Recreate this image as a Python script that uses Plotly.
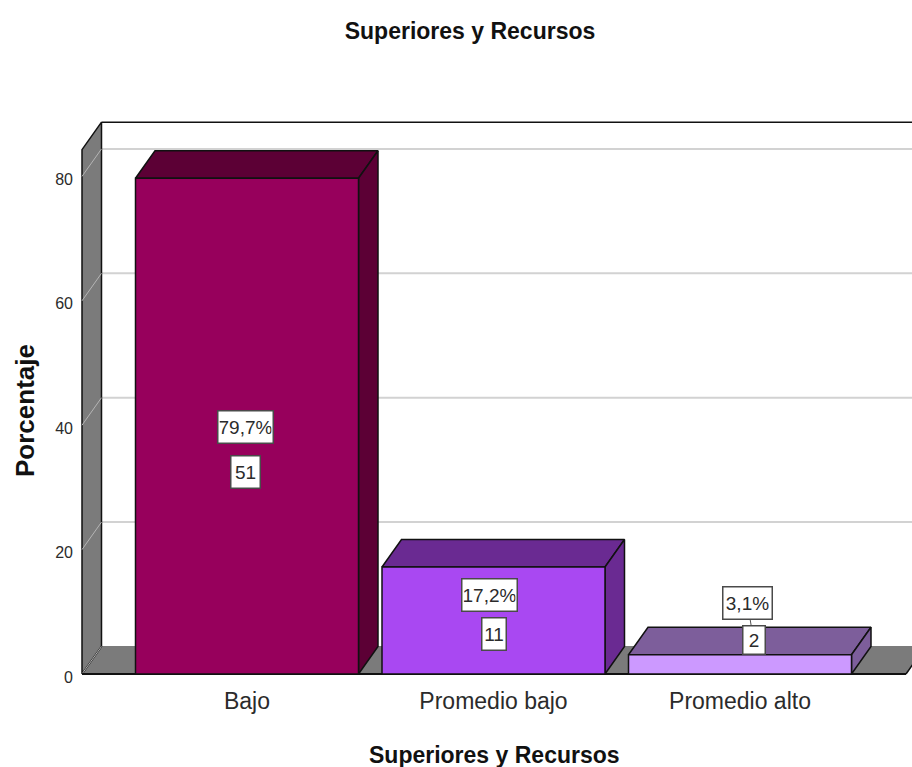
import plotly.graph_objects as go

# ---- data ----
categories = ["Bajo", "Promedio bajo", "Promedio alto"]
percentages = [79.7, 17.2, 3.1]
counts = [51, 11, 2]
pct_labels = ["79,7%", "17,2%", "3,1%"]
y_ticks = [0, 20, 40, 60, 80]

# ---- styling ----
front_colors = ["#97005C", "#A948F2", "#CC99FF"]
shade_colors = ["#5C0035", "#6A2A92", "#7D5E9B"]
WALL = "#7B7B7B"
GRID = "#D2D2D2"
EDGE = "#111111"
FONT = "Liberation Sans, Arial, sans-serif"
TXT = "#2B2B2B"

# ---- geometry constants (pixels -> data units) ----
W, H = 912, 767
PX_X, PX_Y = 246.5, 6.22       # pixels per data unit
X0_PX, Y0_PX = 247, 674        # pixel position of x=0 and y=0
L_PX, T_PX, B_PX = 78, 120, 678
DX = 19.5 / PX_X               # 3-D depth
DY = 27.5 / PX_Y
BAR_W = 223 / PX_X
X_LEFT = (82 - X0_PX) / PX_X   # front-left corner of the floor
X_RIGHT = (906 - X0_PX) / PX_X  # front-right corner of the floor
Y_TOP = 84.3                   # front top of the left wall
TICK_SHIFT = 3 / PX_Y          # tick labels sit slightly under their gridline

# label box centres in data units, and box sizes in pixels
pct_label_xy = [(-0.008, 39.7), (0.985, 12.75), (2.03, 11.4)]
cnt_label_xy = [(-0.008, 32.5), (1.0, 6.45), (2.055, 5.5)]
pct_label_w = [52, 52, 46]
cnt_label_w = [26, 21, 19]
pct_label_h = [29, 29, 29]
cnt_label_h = [29, 29, 25]

fig = go.Figure()


def paper_x(px):
    return (px - L_PX) / (W - L_PX)


def paper_y(py):
    return (B_PX - py) / (B_PX - T_PX)


def poly(xs, ys, fill, line=EDGE, lw=1.5):
    fig.add_trace(go.Scatter(
        x=list(xs) + [xs[0]], y=list(ys) + [ys[0]], mode="lines", fill="toself",
        fillcolor=fill, line=dict(color=line, width=lw), hoverinfo="skip", showlegend=False))


def seg(xs, ys, color, lw):
    fig.add_trace(go.Scatter(x=xs, y=ys, mode="lines", line=dict(color=color, width=lw),
                             hoverinfo="skip", showlegend=False))


# back-wall gridlines
for t in y_ticks[1:]:
    seg([X_LEFT + DX, X_RIGHT + DX], [t + DY, t + DY], GRID, 2)

# floor
poly([X_LEFT, X_RIGHT, X_RIGHT + DX, X_LEFT + DX], [0, 0, DY, DY], WALL, line=WALL, lw=1)
seg([X_RIGHT, X_RIGHT + DX], [0, DY], EDGE, 1.5)
# left wall
poly([X_LEFT, X_LEFT + DX, X_LEFT + DX, X_LEFT], [0, DY, Y_TOP + DY, Y_TOP], WALL)
for t in y_ticks:
    seg([X_LEFT, X_LEFT + DX], [t, t + DY], "#B5B5B5", 1)
# wall top and front axis line
seg([X_LEFT + DX, X_RIGHT + DX], [Y_TOP + DY, Y_TOP + DY], EDGE, 1.5)
seg([X_LEFT, X_RIGHT], [0, 0], EDGE, 2)

# bars
for i, v in enumerate(percentages):
    a, b = i - BAR_W / 2, i + BAR_W / 2
    poly([a, a + DX, b + DX, b], [v, v + DY, v + DY, v], shade_colors[i])
    poly([b, b + DX, b + DX, b], [0, DY, v + DY, v], shade_colors[i])
    poly([a, b, b, a], [0, 0, v, v], front_colors[i])

# connector between the two labels of the last bar
seg([pct_label_xy[2][0], cnt_label_xy[2][0]], [pct_label_xy[2][1], cnt_label_xy[2][1]], "#555555", 1)

# value labels
for texts, xy, widths, heights in ((pct_labels, pct_label_xy, pct_label_w, pct_label_h),
                                   ([str(c) for c in counts], cnt_label_xy, cnt_label_w, cnt_label_h)):
    for t, (x, y), w, h in zip(texts, xy, widths, heights):
        fig.add_annotation(x=x, y=y, xref="x", yref="y", text=t, showarrow=False,
                           width=w, height=h, align="center", valign="middle",
                           font=dict(family=FONT, size=19, color=TXT), bgcolor="white",
                           bordercolor="#4A4A4A", borderwidth=1.5, borderpad=1)

# axis titles
fig.add_annotation(x=paper_x(25), y=paper_y(411), xref="paper", yref="paper", text="<b>Porcentaje</b>",
                   xanchor="center", yanchor="middle", textangle=-90, showarrow=False,
                   font=dict(family=FONT, size=26, color="#111111"))
fig.add_annotation(x=paper_x(494), y=paper_y(755), xref="paper", yref="paper", text="<b>Superiores y Recursos</b>",
                   xanchor="center", yanchor="middle", showarrow=False,
                   font=dict(family=FONT, size=23, color="#111111"))

fig.update_layout(
    width=W, height=H, paper_bgcolor="white", plot_bgcolor="white",
    margin=dict(l=L_PX, r=0, t=T_PX, b=H - B_PX, pad=0),
    title=dict(text="<b>Superiores y Recursos</b>", x=470 / W, y=1 - 31 / H, xanchor="center", yanchor="middle",
               font=dict(family=FONT, size=23, color="#111111")),
    xaxis=dict(range=[(L_PX - X0_PX) / PX_X, (W - X0_PX) / PX_X], tickvals=[0, 1, 2], ticktext=categories,
               showgrid=False, zeroline=False, showline=False, ticks="", ticklabelstandoff=7,
               tickfont=dict(family=FONT, size=23, color=TXT)),
    yaxis=dict(range=[(Y0_PX - B_PX) / PX_Y, (Y0_PX - T_PX) / PX_Y],
               tickvals=[t - TICK_SHIFT for t in y_ticks], ticktext=[str(t) for t in y_ticks],
               showgrid=False, zeroline=False, showline=False, ticks="", ticklabelstandoff=4,
               tickfont=dict(family=FONT, size=16, color=TXT)),
)

fig.write_html("out.html", post_script="document.body.style.margin='0';",
               config=dict(displayModeBar=False))
